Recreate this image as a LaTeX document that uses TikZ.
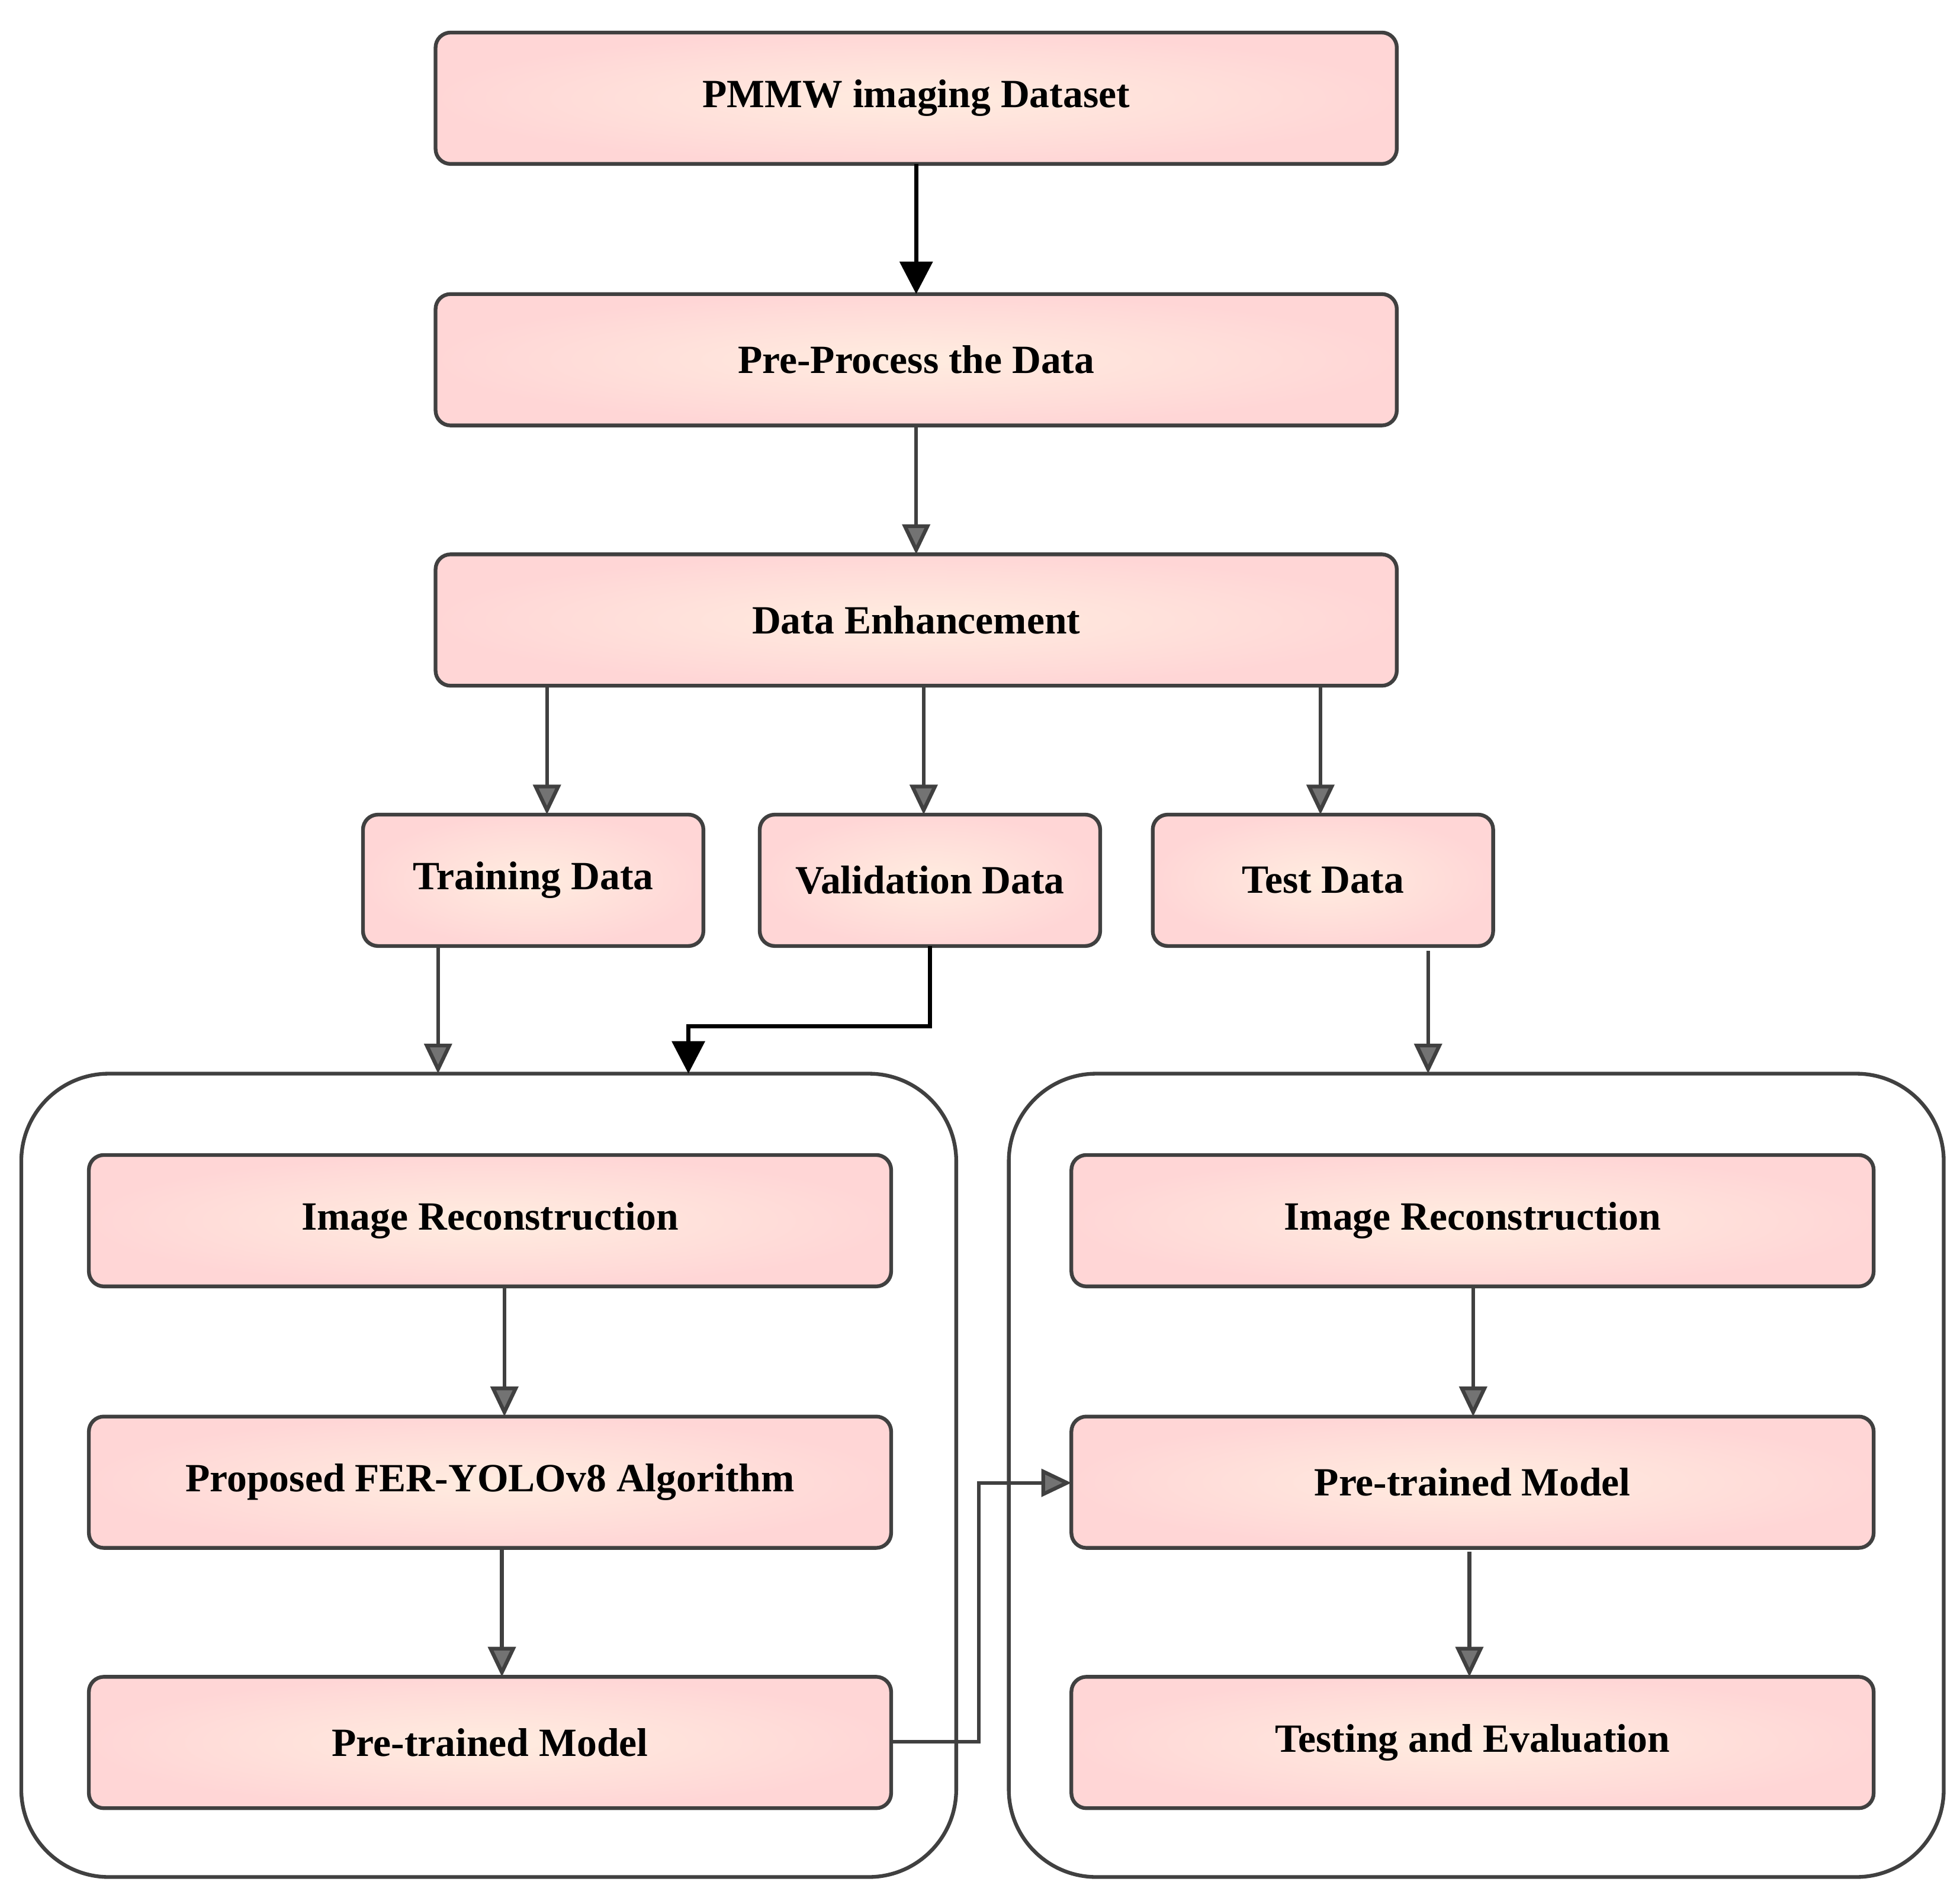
\documentclass[tikz,border=0pt]{standalone}
\usepackage{fontspec}
\setmainfont{Liberation Serif}
\usetikzlibrary{arrows.meta}
\begin{document}
\begin{tikzpicture}[x=1pt,y=-1pt,
 box/.style={draw=black!75,line width=3pt,rounded corners=12pt,inner color=white!40!pink!60!orange!25,outer color=red!16,font=\fontsize{32}{36}\selectfont\bfseries},
 ctr/.style={draw=black!75,line width=3pt,rounded corners=70pt},
 arr/.style={draw=black!75,line width=3pt,-{Triangle[length=24pt,width=22pt,fill=black!55]}},
 barr/.style={draw=black,line width=3.5pt,-{Triangle[length=26pt,width=26pt,fill=black]}}]
\useasboundingbox (0,0) rectangle (1566,1506);
\newcommand\bx[6]{\path[box] (#2,#3) rectangle (#4,#5); \node[font=\fontsize{32}{36}\selectfont\bfseries] (#1) at ({(#2+#4)/2},{(#3+#5)/2}) {#6};
 \coordinate (#1t) at ({(#2+#4)/2},#3); \coordinate (#1b) at ({(#2+#4)/2},#5);}
\path[ctr] (17,858) rectangle (764,1500);
\path[ctr] (806,858) rectangle (1553,1500);
\bx{pm}{348}{26}{1116}{131}{PMMW imaging Dataset}
\bx{pp}{348}{235}{1116}{340}{Pre-Process the Data}
\bx{de}{348}{443}{1116}{548}{Data Enhancement}
\bx{tr}{290}{651}{562}{756}{Training Data}
\bx{va}{607}{651}{879}{756}{Validation Data}
\bx{te}{921}{651}{1193}{756}{Test Data}
\bx{lir}{71}{923}{712}{1028}{Image Reconstruction}
\bx{lpf}{71}{1132}{712}{1237}{Proposed FER-YOLOv8 Algorithm}
\bx{lpm}{71}{1340}{712}{1445}{Pre-trained Model}
\bx{rir}{856}{923}{1497}{1028}{Image Reconstruction}
\bx{rpm}{856}{1132}{1497}{1237}{Pre-trained Model}
\bx{rte}{856}{1340}{1497}{1445}{Testing and Evaluation}
\coordinate (c1) at (350,858); \coordinate (c2) at (550,858); \coordinate (c3) at (1141,858);
\draw[barr] (pmb) -- (ppt);
\draw[arr] (ppb) -- (det);
\draw[arr] (437,548) -- (437,651);
\draw[arr] (738,548) -- (738,651);
\draw[arr] (1055,548) -- (1055,651);
\draw[arr] (350,756) -- (c1);
\draw[barr] (743,756) -- (743,820) -- (550,820) -- (c2);
\draw[arr] (1141,760) -- (c3);
\draw[arr] (403,1028) -- (403,1132);
\draw[arr] (401,1237) -- (401,1340);
\draw[arr] (712,1392) -- (782,1392) -- (782,1185) -- (856,1185);
\draw[arr] (1177,1028) -- (1177,1132);
\draw[arr] (1174,1240) -- (1174,1340);
\end{tikzpicture}
\end{document}
